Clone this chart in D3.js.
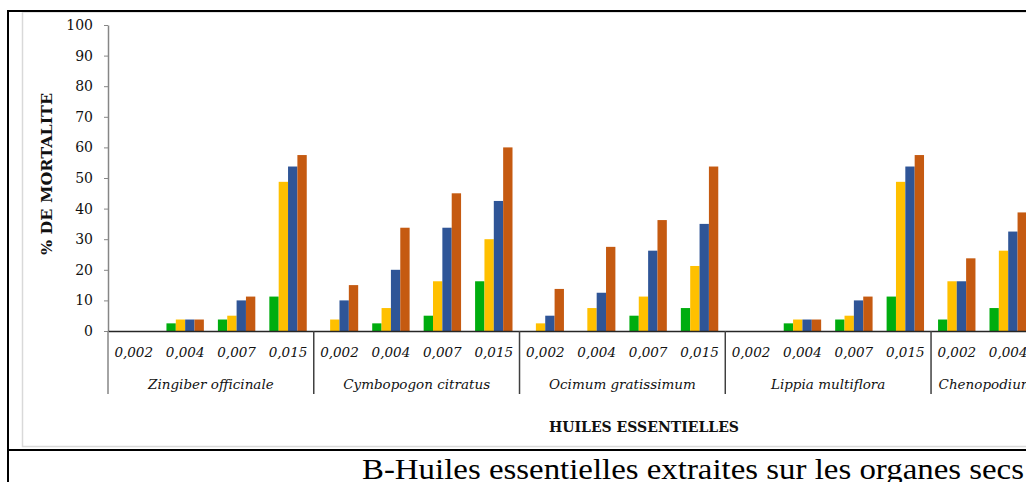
<!DOCTYPE html>
<html>
<head>
<meta charset="utf-8">
<script src="https://d3js.org/d3.v7.min.js"></script>
<style>
  body { margin: 0; background: #fff; }
  svg { display: block; }
</style>
</head>
<body>
<script>
var w = 1026;
var h = 482;

// essential oils (groups) and doses (sub-categories)
var huiles = ["Zingiber officinale", "Cymbopogon citratus", "Ocimum gratissimum",
              "Lippia multiflora", "Chenopodium ambrosioides"];
var doses = ["0,002", "0,004", "0,007", "0,015"];
var yTicks = [0, 10, 20, 30, 40, 50, 60, 70, 80, 90, 100];

// % mortality, one value per (huile, dose); last two are outside the picture
var serie1 = [0, 2.5, 3.75, 11.25,  0, 2.5, 5, 16.25,  0, 0, 5, 7.5,  0, 2.5, 3.75, 11.25,  3.75, 7.5, null, null];
var serie2 = [0, 3.75, 5, 48.75,  3.75, 7.5, 16.25, 30,  2.5, 7.5, 11.25, 21.25,  0, 3.75, 5, 48.75,  16.25, 26.25, null, null];
var serie3 = [0, 3.75, 10, 53.75,  10, 20, 33.75, 42.5,  5, 12.5, 26.25, 35,  0, 3.75, 10, 53.75,  16.25, 32.5, null, null];
var serie4 = [0, 3.75, 11.25, 57.5,  15, 33.75, 45, 60,  13.75, 27.5, 36.25, 53.75,  0, 3.75, 11.25, 57.5,  23.75, 38.75, null, null];

var series = [serie1, serie2, serie3, serie4];
var colors = ["#00ad0f", "#ffc000", "#2f5597", "#c55a11"];

var keys = [];
huiles.forEach(function(g) {
  doses.forEach(function(d) { keys.push(g + "|" + d); });
});

var x0 = 108, slot = 51.44;
var x = d3.scaleBand().domain(keys).range([x0, x0 + keys.length * slot]);
var xs = d3.scaleBand().domain(d3.range(series.length))
           .range([0, x.bandwidth()]).paddingOuter(0.75);
var y = d3.scaleLinear().domain([0, 100]).range([331, 25]);

var svg = d3.select("body").append("svg")
      .attr("width", w)
      .attr("height", h);

// chart area frame
svg.append("rect")
   .attr("x", 22.5).attr("y", 12)
   .attr("width", 1100).attr("height", 434.5)
   .attr("fill", "#fff")
   .attr("stroke", "#d9d9d9")
   .attr("stroke-width", 1.5);

// bars
var bars = [];
series.forEach(function(s, si) {
  s.forEach(function(v, i) {
    if (v !== null) bars.push({k: keys[i], s: si, v: v});
  });
});

svg.selectAll("rect.bar")
   .data(bars)
   .enter()
   .append("rect")
   .attr("class", "bar")
   .attr("x", function(d) { return x(d.k) + xs(d.s); })
   .attr("y", function(d) { return y(d.v); })
   .attr("width", xs.bandwidth())
   .attr("height", function(d) { return y(0) - y(d.v); })
   .attr("fill", function(d) { return colors[d.s]; });

// y axis
var yAxis = svg.append("g")
   .attr("transform", "translate(" + x0 + ",0)")
   .call(d3.axisLeft(y).tickValues(yTicks).tickSize(4).tickSizeOuter(0).tickPadding(11));
yAxis.select(".domain").attr("stroke", "#868686").attr("stroke-width", 1.5);
yAxis.selectAll(".tick line").attr("stroke", "#868686");
yAxis.selectAll("text")
   .attr("font-family", "DejaVu Serif")
   .attr("font-size", "14px")
   .attr("fill", "#111");

// x axis (doses)
var xAxis = svg.append("g")
   .attr("transform", "translate(0," + y(0) + ")")
   .call(d3.axisBottom(x).tickSize(0).tickPadding(16)
           .tickFormat(function(d) { return d.split("|")[1]; }));
xAxis.select(".domain").attr("stroke", "#262626").attr("stroke-width", 1.5);
xAxis.selectAll("text")
   .attr("font-family", "DejaVu Serif")
   .attr("font-style", "italic")
   .attr("font-size", "13.5px")
   .attr("fill", "#111");

// y axis continues down through the label rows
svg.append("line")
   .attr("x1", x0).attr("x2", x0)
   .attr("y1", y(0)).attr("y2", 394)
   .attr("stroke", "#868686").attr("stroke-width", 1.5);

// group separators and names
svg.selectAll("line.sep")
   .data(huiles.slice(1))
   .enter()
   .append("line")
   .attr("class", "sep")
   .attr("x1", function(g) { return x(g + "|" + doses[0]); })
   .attr("x2", function(g) { return x(g + "|" + doses[0]); })
   .attr("y1", y(0)).attr("y2", 394)
   .attr("stroke", "#404040").attr("stroke-width", 1.5);

svg.selectAll("text.grp")
   .data(huiles)
   .enter()
   .append("text")
   .attr("class", "grp")
   .text(function(g) { return g; })
   .attr("x", function(g) { return x(g + "|" + doses[0]) + 2 * x.bandwidth(); })
   .attr("y", 389)
   .attr("text-anchor", "middle")
   .attr("font-family", "DejaVu Serif")
   .attr("font-style", "italic")
   .attr("font-size", "13.5px")
   .attr("fill", "#111");

// axis titles
svg.append("text")
   .text("HUILES ESSENTIELLES")
   .attr("x", 644).attr("y", 432)
   .attr("text-anchor", "middle")
   .attr("textLength", 190)
   .attr("lengthAdjust", "spacingAndGlyphs")
   .attr("font-family", "DejaVu Serif")
   .attr("font-weight", "bold")
   .attr("font-size", "15px")
   .attr("fill", "#111");

svg.append("text")
   .text("% DE MORTALITE")
   .attr("transform", "translate(52,174) rotate(-90)")
   .attr("text-anchor", "middle")
   .attr("textLength", 162)
   .attr("lengthAdjust", "spacingAndGlyphs")
   .attr("font-family", "DejaVu Serif")
   .attr("font-weight", "bold")
   .attr("font-size", "15px")
   .attr("fill", "#111");

// table borders around the figure
svg.append("line").attr("x1", 7).attr("x2", w).attr("y1", 11).attr("y2", 11)
   .attr("stroke", "#000").attr("stroke-width", 2);
svg.append("line").attr("x1", 8).attr("x2", 8).attr("y1", 10).attr("y2", h)
   .attr("stroke", "#000").attr("stroke-width", 2);
svg.append("line").attr("x1", 7).attr("x2", w).attr("y1", 450).attr("y2", 450)
   .attr("stroke", "#000").attr("stroke-width", 2);

svg.append("text")
   .text("B-Huiles essentielles extraites sur les organes secs")
   .attr("x", 362).attr("y", 479)
   .attr("textLength", 662)
   .attr("lengthAdjust", "spacingAndGlyphs")
   .attr("font-family", "Liberation Serif")
   .attr("font-size", "30px")
   .attr("fill", "#000");
</script>
</body>
</html>
